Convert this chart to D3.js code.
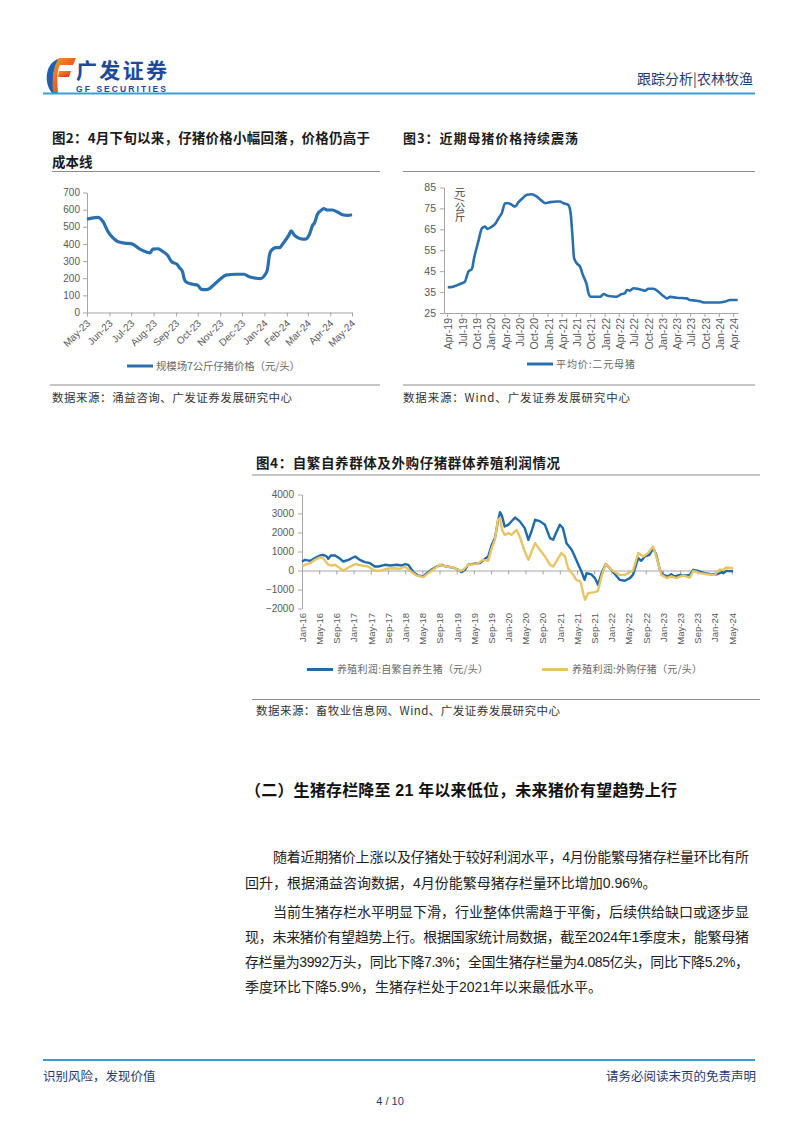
<!DOCTYPE html>
<html><head><meta charset="utf-8">
<script src="https://cdn.jsdelivr.net/npm/d3@7"></script>
<style>body{margin:0;background:#fff;}svg{display:block;}</style>
</head><body>
<svg id="page" width="802" height="1133"></svg>
<script>
// ---------- DATA ----------
// Fig 2: 规模场7公斤仔猪价格（元/头）
const fig2Dates = ["2023-05-01","2023-05-16","2023-05-23","2023-05-30","2023-06-06","2023-06-13","2023-06-22","2023-07-02","2023-07-13","2023-07-22","2023-07-27","2023-07-31","2023-08-07","2023-08-14","2023-08-20","2023-08-26","2023-09-02","2023-09-06","2023-09-10","2023-09-12","2023-09-15","2023-09-24","2023-10-01","2023-10-06","2023-10-13","2023-10-17","2023-10-21","2023-10-26","2023-11-02","2023-11-09","2023-11-23","2023-12-04","2023-12-11","2023-12-20","2023-12-27","2024-01-01","2024-01-05","2024-01-08","2024-01-10","2024-01-17","2024-01-22","2024-01-26","2024-02-04","2024-02-07","2024-02-11","2024-02-16","2024-02-23","2024-02-27","2024-03-03","2024-03-08","2024-03-10","2024-03-14","2024-03-19","2024-03-23","2024-03-28","2024-04-04","2024-04-11","2024-04-18","2024-04-25","2024-05-01"];
const fig2Values = [545,555,531,472,435,412,405,400,370,353,348,370,372,355,335,296,282,260,237,200,178,165,159,135,133,139,153,172,198,218,223,223,208,200,198,215,247,335,359,378,378,398,453,476,453,437,428,428,453,512,520,570,594,606,598,598,586,570,566,570];
const fig2XTicks = ["May-23","Jun-23","Jul-23","Aug-23","Sep-23","Oct-23","Nov-23","Dec-23","Jan-24","Feb-24","Mar-24","Apr-24","May-24"];
const fig2YTicks = [0,100,200,300,400,500,600,700];

// Fig 3: 平均价:二元母猪（元/公斤）
const fig3Dates = ["2019-04-05","2019-05-10","2019-06-01","2019-07-03","2019-07-24","2019-08-04","2019-08-15","2019-09-06","2019-09-20","2019-10-17","2019-11-09","2019-11-30","2019-12-14","2020-01-12","2020-02-02","2020-02-23","2020-03-15","2020-04-05","2020-04-26","2020-05-18","2020-06-08","2020-06-30","2020-07-21","2020-08-22","2020-09-23","2020-10-25","2020-11-26","2020-12-17","2021-01-19","2021-03-01","2021-03-22","2021-04-12","2021-05-14","2021-05-29","2021-06-09","2021-06-20","2021-07-07","2021-07-28","2021-08-15","2021-08-29","2021-09-09","2021-09-20","2021-10-05","2021-12-04","2021-12-25","2022-01-26","2022-03-19","2022-04-20","2022-05-11","2022-05-22","2022-06-12","2022-07-03","2022-08-04","2022-09-16","2022-10-07","2022-11-09","2022-12-10","2023-01-11","2023-02-03","2023-02-24","2023-04-06","2023-06-09","2023-06-30","2023-08-12","2023-09-13","2023-10-04","2024-01-08","2024-02-10","2024-03-12","2024-04-30"];
const fig3Values = [37.3,37.6,38.2,39.2,40,42.4,44.8,46,51.2,59.1,65.5,66.3,65.2,66.3,67.6,70.3,72.7,77.5,77.5,76.7,75.9,78,79.5,81.5,81.8,80.6,78.6,77.5,78,78.3,78.3,77.5,76.7,72.7,62.3,51.2,48.8,47.2,43.2,40.8,38.4,34.4,32.8,32.8,34.1,33.1,32.8,34.1,34.4,36,35.7,36.8,36.5,35.7,36.6,36.6,35.2,33.1,32,32.7,32.3,32,31.2,30.9,30.3,30,30,30.5,31.2,31.2];
const fig3XTicks = ["Apr-19","Jul-19","Oct-19","Jan-20","Apr-20","Jul-20","Oct-20","Jan-21","Apr-21","Jul-21","Oct-21","Jan-22","Apr-22","Jul-22","Oct-22","Jan-23","Apr-23","Jul-23","Oct-23","Jan-24","Apr-24"];
const fig3YTicks = [25,35,45,55,65,75,85];

// Fig 4: 养殖利润（元/头）, time as decimal year
const fig4SelfTime = [2016.00,2016.06,2016.16,2016.25,2016.35,2016.41,2016.48,2016.51,2016.56,2016.64,2016.74,2016.80,2016.90,2017.03,2017.12,2017.22,2017.32,2017.41,2017.48,2017.61,2017.71,2017.84,2017.93,2018.00,2018.06,2018.16,2018.25,2018.35,2018.42,2018.51,2018.61,2018.71,2018.80,2018.93,2019.03,2019.09,2019.16,2019.22,2019.32,2019.45,2019.55,2019.61,2019.68,2019.74,2019.80,2019.84,2019.88,2019.93,2020.00,2020.06,2020.13,2020.22,2020.32,2020.39,2020.45,2020.52,2020.61,2020.71,2020.81,2020.87,2020.94,2021.00,2021.06,2021.13,2021.23,2021.29,2021.36,2021.42,2021.48,2021.52,2021.61,2021.68,2021.74,2021.81,2021.89,2021.97,2022.07,2022.16,2022.26,2022.36,2022.42,2022.52,2022.58,2022.65,2022.74,2022.81,2022.87,2022.94,2023.00,2023.10,2023.16,2023.23,2023.33,2023.46,2023.52,2023.59,2023.68,2023.81,2023.94,2024.04,2024.10,2024.15,2024.17,2024.23,2024.36];
const fig4SelfValues = [474,563,510,653,790,826,737,616,790,790,616,474,563,737,563,440,386,210,210,300,263,300,263,336,300,-86,-261,-316,-140,37,210,300,210,157,37,-86,37,300,350,386,616,737,1352,1702,2579,3070,2860,2316,2400,2579,2790,2600,2230,1616,2053,2668,2600,2405,1702,1616,2053,2405,2230,1440,1090,737,300,-53,-490,-140,-200,-400,-753,-140,336,120,-200,-490,-540,-400,-220,653,510,737,826,1179,826,37,-230,-316,-200,-316,-230,-260,-230,37,-20,-140,-200,-200,-140,-86,-140,-20,-40];
const fig4BuyTime = [2016.00,2016.09,2016.16,2016.25,2016.35,2016.41,2016.51,2016.58,2016.64,2016.74,2016.80,2016.90,2017.03,2017.16,2017.28,2017.41,2017.51,2017.64,2017.77,2017.90,2018.00,2018.09,2018.22,2018.35,2018.45,2018.54,2018.67,2018.80,2018.93,2019.06,2019.13,2019.22,2019.39,2019.51,2019.61,2019.68,2019.74,2019.80,2019.84,2019.88,2019.93,2020.00,2020.06,2020.16,2020.22,2020.32,2020.39,2020.52,2020.61,2020.71,2020.81,2020.87,2021.03,2021.10,2021.16,2021.26,2021.32,2021.40,2021.46,2021.49,2021.55,2021.68,2021.74,2021.81,2021.89,2022.00,2022.16,2022.26,2022.42,2022.52,2022.62,2022.71,2022.81,2022.87,2022.97,2023.07,2023.16,2023.26,2023.39,2023.52,2023.59,2023.72,2023.84,2024.00,2024.09,2024.17,2024.23,2024.36];
const fig4BuyValues = [210,336,386,563,690,650,300,263,300,120,-15,157,336,263,210,-15,-15,90,120,90,210,-15,-261,-350,-140,37,300,210,157,-15,37,300,336,563,510,1179,1616,2668,2756,2140,1880,1965,1880,2140,1800,1000,560,1440,1100,750,300,210,916,737,120,-230,-490,-580,-1280,-1540,-1190,-1140,-1070,-300,336,37,-230,-230,0,916,737,916,1265,737,-230,-400,-316,-400,-260,-370,-20,-140,-200,-230,37,37,157,120];
const fig4XTicks = ["Jan-16","May-16","Sep-16","Jan-17","May-17","Sep-17","Jan-18","May-18","Sep-18","Jan-19","May-19","Sep-19","Jan-20","May-20","Sep-20","Jan-21","May-21","Sep-21","Jan-22","May-22","Sep-22","Jan-23","May-23","Sep-23","Jan-24","May-24"];
const fig4YTicks = [-2000,-1000,0,1000,2000,3000,4000];

// ---------- STYLE ----------
const SANS = '"Liberation Sans", Arial, "Noto Sans CJK SC", sans-serif';
const CJK = '"Noto Sans CJK SC", "Liberation Sans", sans-serif';
const NAVY = "#1f3a6e";
const BLUE = "#1f6aa8";
const GOLD = "#e8c564";
const AXIS = "#a6a6a6";
const TICKTXT = "#595959";

const svg = d3.select("#page");
const parseISO = d3.timeParse("%Y-%m-%d");
const parseTick = d3.timeParse("%b-%y");

function txt(x, y, s, o = {}) {
  const t = svg.append("text").attr("x", x).attr("y", y).text(s)
    .style("font-family", o.family || CJK)
    .style("font-size", (o.size || 12) + "px")
    .style("font-weight", o.weight || "normal")
    .attr("fill", o.fill || "#222")
    .attr("text-anchor", o.anchor || "start");
  if (o.len) t.attr("textLength", o.len).attr("lengthAdjust", o.adjust || "spacing");
  return t;
}
function hline(x1, x2, y, color, w) {
  svg.append("line").attr("x1", x1).attr("x2", x2).attr("y1", y).attr("y2", y)
    .attr("stroke", color).attr("stroke-width", w);
}
function styleAxis(g, size) {
  g.selectAll("path,line").attr("stroke", AXIS).attr("stroke-width", 1);
  g.selectAll("text").attr("fill", TICKTXT).style("font-family", SANS).style("font-size", (size || 10) + "px");
}

// ---------- HEADER ----------
const defs = svg.append("defs");
const grad = defs.append("linearGradient").attr("id", "lg").attr("x1", "0").attr("x2", "1").attr("y1", "0").attr("y2", "1");
grad.append("stop").attr("offset", "0").attr("stop-color", "#f39a1e");
grad.append("stop").attr("offset", "1").attr("stop-color", "#e3262b");
svg.append("path").attr("d", "M58 59 C46 63 43 82 52 93 L58 93 C51 84 51 69 61 63 Z").attr("fill", "#1d5fb5");
svg.append("path").attr("d", "M59 58 L76 58 L73 65 L60 65 C57 70 57 80 58 92 L53 92 C52 78 53 66 59 58 Z").attr("fill", "url(#lg)");
svg.append("path").attr("d", "M59 71 L71 71 L69 77 L58 77 Z").attr("fill", "url(#lg)");
txt(76, 78, "广发证券", { size: 21, weight: "bold", fill: "#1d4a9c", len: 91 });
txt(76, 91.5, "GF SECURITIES", { family: SANS, size: 8.5, weight: "bold", fill: "#1d4a9c", len: 90 });
txt(753, 84, "跟踪分析|农林牧渔", { size: 14, fill: NAVY, anchor: "end", len: 116 });
hline(43, 755, 93.5, "#3a9fd5", 2);

// ---------- FIG 2 ----------
txt(52, 143, "图2：4月下旬以来，仔猪价格小幅回落，价格仍高于", { size: 13.5, weight: "bold", fill: "#1a1a1a", len: 318 });
txt(52, 167, "成本线", { size: 13.5, weight: "bold", fill: "#1a1a1a" });
hline(52, 380, 171.5, "#8c8c8c", 1);

const x2 = d3.scaleTime().domain([parseTick("May-23"), parseTick("May-24")]).range([87, 352]);
const y2 = d3.scaleLinear().domain([0, 700]).range([312.5, 192.5]);
const g2y = svg.append("g").attr("transform", "translate(87,0)")
  .call(d3.axisLeft(y2).tickValues(fig2YTicks).tickSize(4).tickSizeOuter(0).tickPadding(3));
styleAxis(g2y, 10);
const g2x = svg.append("g").attr("transform", `translate(0,${y2(0)})`)
  .call(d3.axisBottom(x2).tickValues(fig2XTicks.map(parseTick)).tickSize(4).tickSizeOuter(0).tickFormat(d3.timeFormat("%b-%y")));
styleAxis(g2x, 10);
g2x.selectAll("text").attr("x", 0).attr("y", 0).attr("dy", "0.35em").attr("text-anchor", "end")
  .attr("transform", "translate(1,9) rotate(-45)");
const fig2Data = d3.zip(fig2Dates, fig2Values).map(d => ({ t: parseISO(d[0]), v: d[1] }));
svg.append("path").datum(fig2Data).attr("fill", "none").attr("stroke", "#2a6fae").attr("stroke-width", 3.2)
  .attr("stroke-linejoin", "round")
  .attr("d", d3.line().x(d => x2(d.t)).y(d => y2(d.v)).curve(d3.curveMonotoneX));
hline(127, 153, 366, "#2a6fae", 3);
txt(156, 369.5, "规模场7公斤仔猪价格（元/头）", { size: 10.5, fill: "#666", len: 144 });
hline(50, 380, 385, "#8c8c8c", 1);
txt(52, 401.5, "数据来源：涌益咨询、广发证券发展研究中心", { size: 11.5, fill: "#333", len: 240 });

// ---------- FIG 3 ----------
txt(403, 143, "图3：近期母猪价格持续震荡", { size: 13, weight: "bold", fill: "#1a1a1a", len: 175 });
hline(403, 755, 171.5, "#8c8c8c", 1);
const x3 = d3.scaleTime().domain([parseISO("2019-03-12"), parseISO("2024-05-02")]).range([444, 738]);
const y3 = d3.scaleLinear().domain([25, 85]).range([313, 187.5]);
const g3y = svg.append("g").attr("transform", "translate(444,0)")
  .call(d3.axisLeft(y3).tickValues(fig3YTicks).tickSize(4).tickSizeOuter(0).tickPadding(4));
styleAxis(g3y, 10.5);
const g3x = svg.append("g").attr("transform", `translate(0,${y3(25)})`)
  .call(d3.axisBottom(x3).tickValues(fig3XTicks.map(parseTick)).tickSize(4).tickSizeOuter(0).tickFormat(d3.timeFormat("%b-%y")));
styleAxis(g3x, 10.5);
g3x.selectAll("text").attr("x", 0).attr("y", 0).attr("dy", "0.35em").attr("text-anchor", "end")
  .attr("transform", "translate(1,5) rotate(-90)");
// unit label 元/公斤 written vertically
svg.append("text").attr("x", 460).attr("y", 187).text("元/公斤")
  .style("writing-mode", "vertical-rl").style("font-family", CJK).style("font-size", "10.5px")
  .attr("fill", "#444");
const fig3Data = d3.zip(fig3Dates, fig3Values).map(d => ({ t: parseISO(d[0]), v: d[1] }));
svg.append("path").datum(fig3Data).attr("fill", "none").attr("stroke", "#2a6fae").attr("stroke-width", 2.6)
  .attr("stroke-linejoin", "round")
  .attr("d", d3.line().x(d => x3(d.t)).y(d => y3(d.v)).curve(d3.curveMonotoneX));
hline(527, 553, 364, "#2a6fae", 3);
txt(556, 367.5, "平均价:二元母猪", { size: 10, fill: "#666", len: 79 });
hline(403, 755, 385, "#8c8c8c", 1);
txt(403, 401.5, "数据来源：Wind、广发证券发展研究中心", { size: 11.5, fill: "#333", len: 227 });

// ---------- FIG 4 ----------
txt(256, 468, "图4：自繁自养群体及外购仔猪群体养殖利润情况", { size: 13.5, weight: "bold", fill: "#1a1a1a", len: 304 });
hline(252, 760, 475, "#8c8c8c", 1);
const tickToYear = s => { const d = parseTick(s); return d.getFullYear() + d.getMonth() / 12; };
const x4 = d3.scaleLinear().domain([2016, 2024 + 4 / 12]).range([302, 731.7]);
const y4 = d3.scaleLinear().domain([-2000, 4000]).range([608.5, 494.5]);
const g4y = svg.append("g").attr("transform", "translate(302,0)")
  .call(d3.axisLeft(y4).tickValues(fig4YTicks).tickSize(4).tickSizeOuter(0).tickPadding(4).tickFormat(d3.format("d")));
styleAxis(g4y, 10);
const fig4TickYears = fig4XTicks.map(tickToYear);
const g4x = svg.append("g").attr("transform", `translate(0,${y4(0)})`)
  .call(d3.axisBottom(x4).tickValues(fig4TickYears).tickSize(4).tickSizeOuter(0).tickFormat((d, i) => fig4XTicks[i]));
styleAxis(g4x, 9.5);
g4x.select(".domain").attr("d", `M302,0.5H733`);
g4x.selectAll("text").attr("x", 0).attr("y", 0).attr("dy", "0.35em").attr("text-anchor", "end")
  .attr("transform", `translate(0,${613 - y4(0)}) rotate(-90)`);
const line4 = d3.line().x(d => x4(d[0])).y(d => y4(d[1]));
svg.append("path").datum(d3.zip(fig4SelfTime, fig4SelfValues)).attr("fill", "none").attr("stroke", BLUE)
  .attr("stroke-width", 2.4).attr("stroke-linejoin", "round").attr("d", line4);
svg.append("path").datum(d3.zip(fig4BuyTime, fig4BuyValues)).attr("fill", "none").attr("stroke", GOLD)
  .attr("stroke-width", 2.4).attr("stroke-linejoin", "round").attr("d", line4);
hline(307, 333, 669.5, BLUE, 3);
txt(337, 673, "养殖利润:自繁自养生猪（元/头）", { size: 10, fill: "#666", len: 151 });
hline(542, 568, 669.5, GOLD, 3);
txt(572, 673, "养殖利润:外购仔猪（元/头）", { size: 10, fill: "#666", len: 130 });
hline(252, 760, 699.5, "#8c8c8c", 1);
txt(256, 714.5, "数据来源：畜牧业信息网、Wind、广发证券发展研究中心", { size: 11.5, fill: "#333", len: 304 });

// ---------- TEXT ----------
txt(245, 796, "（二）生猪存栏降至 21 年以来低位，未来猪价有望趋势上行", { size: 16, weight: "bold", fill: "#111", family: SANS, len: 432 });
const bodyOpts = { size: 14, fill: "#222", family: SANS };
txt(273, 862, "随着近期猪价上涨以及仔猪处于较好利润水平，4月份能繁母猪存栏量环比有所", { ...bodyOpts, len: 476 });
txt(245, 888, "回升，根据涌益咨询数据，4月份能繁母猪存栏量环比增加0.96%。", bodyOpts);
txt(273, 917, "当前生猪存栏水平明显下滑，行业整体供需趋于平衡，后续供给缺口或逐步显", { ...bodyOpts, len: 476 });
txt(245, 942, "现，未来猪价有望趋势上行。根据国家统计局数据，截至2024年1季度末，能繁母猪", { ...bodyOpts, len: 504 });
txt(245, 967, "存栏量为3992万头，同比下降7.3%；全国生猪存栏量为4.085亿头，同比下降5.2%，", { ...bodyOpts, len: 504 });
txt(245, 992, "季度环比下降5.9%，生猪存栏处于2021年以来最低水平。", bodyOpts);

// ---------- FOOTER ----------
hline(43, 755, 1060, "#3a9fd5", 2);
txt(43, 1081, "识别风险，发现价值", { size: 12.5, fill: NAVY });
txt(756, 1081, "请务必阅读末页的免责声明", { size: 12.5, fill: NAVY, anchor: "end" });
txt(390, 1105, "4 / 10", { family: SANS, size: 11, fill: NAVY, anchor: "middle" });
</script>
</body></html>
